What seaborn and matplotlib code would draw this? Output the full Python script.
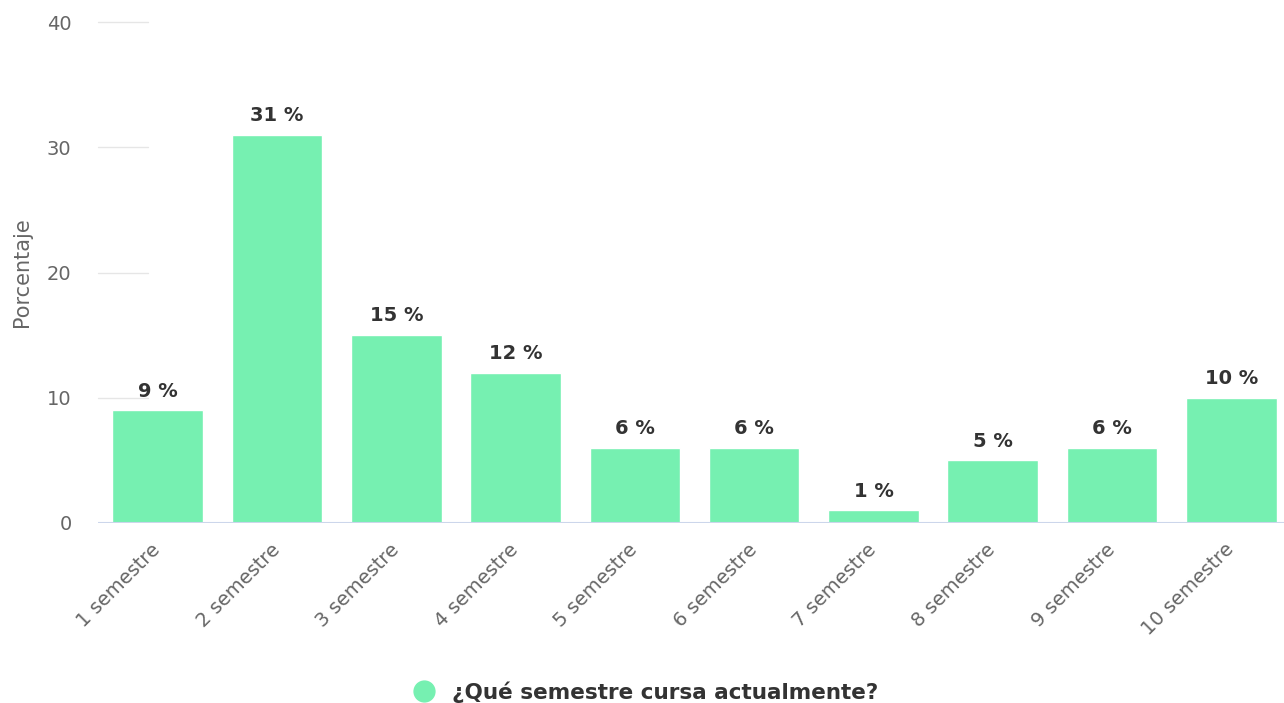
import matplotlib
matplotlib.use("Agg")
import matplotlib.pyplot as plt
import seaborn as sns
import pandas as pd
from matplotlib.lines import Line2D

categories = ["1 semestre", "2 semestre", "3 semestre", "4 semestre", "5 semestre",
              "6 semestre", "7 semestre", "8 semestre", "9 semestre", "10 semestre"]
values = [9, 31, 15, 12, 6, 6, 1, 5, 6, 10]
yticks = [0, 10, 20, 30, 40]
series_name = "¿Qué semestre cursa actualmente?"
bar_color = "#76f0b1"

sns.set_theme(style="white")
plt.rcParams['font.family'] = ['DejaVu Sans']

df = pd.DataFrame({"cat": categories, "val": values})

fig = plt.figure(figsize=(12.84, 7.03), dpi=100)
ax = fig.add_axes([98/1284, 1-523/703, 1193/1284, (523-22)/703])

sns.barplot(data=df, x="cat", y="val", color=bar_color, saturation=1,
            width=0.76, ax=ax, zorder=2)

ax.set_xlim(-0.5, len(categories)-0.5)
ax.set_ylim(0, 40)
ax.set_yticks(yticks)
ax.set_yticklabels([str(t) for t in yticks])
for t in yticks[1:]:
    ax.axhline(t, xmin=0, xmax=(148-98)/1193, color="#e6e6e6", lw=1, zorder=1, clip_on=False)
ax.axhline(0, color="#ccd6eb", lw=1.5, zorder=3)

for s in ax.spines.values():
    s.set_visible(False)

ax.tick_params(axis='y', length=0, pad=19, labelsize=14, labelcolor="#666666")
ax.tick_params(axis='x', length=0, pad=17, labelsize=14, labelcolor="#666666")
plt.setp(ax.get_xticklabels(), rotation=45, ha='right', va='center', rotation_mode='anchor')
ax.set_xlabel("")
ax.set_ylabel("Porcentaje", fontsize=15, color="#666666", labelpad=11)

for i, v in enumerate(values):
    ax.annotate(f"{v} %", (i, v), xytext=(0, 7), textcoords="offset points",
                ha="center", va="bottom", fontsize=14, fontweight="bold", color="#333333")

handle = Line2D([], [], marker='o', linestyle='', markersize=15,
                markerfacecolor=bar_color, markeredgecolor=bar_color)
fig.legend([handle], [series_name], loc="center", bbox_to_anchor=(640/1284, 1-692/703),
           frameon=False, prop={'size': 15.5, 'weight': 'bold'}, labelcolor="#333333",
           handletextpad=0.3)

fig.savefig("out.png", dpi=100, facecolor="white")
